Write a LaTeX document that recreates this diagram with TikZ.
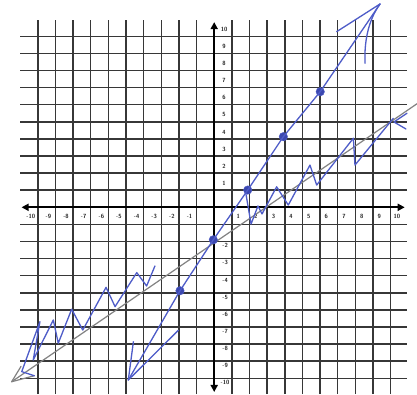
\documentclass[tikz,border=0pt]{standalone}
\usetikzlibrary{arrows.meta}
\definecolor{ink}{RGB}{78,92,200}
\definecolor{inkdot}{RGB}{60,72,175}
\definecolor{gridc}{RGB}{55,55,55}
\definecolor{pencil}{RGB}{130,130,130}
\begin{document}
\begin{tikzpicture}[
  gridline/.style={draw=gridc, line width=1.5pt},
  axisline/.style={draw=black, line width=2.1pt, -{Triangle[length=7pt,width=7pt]}},
  lbl/.style={font=\sffamily\bfseries\fontsize{6}{7}\selectfont, text=black!85, inner sep=0pt},
  pen/.style={draw=ink, line width=1.3pt, line cap=round, line join=round},
  graypen/.style={draw=pencil, line width=1.2pt, line cap=round, line join=round},
  bluedot/.style={circle, fill=inkdot, draw=ink, inner sep=0pt, minimum size=8.5pt},
]
\useasboundingbox (0,0) rectangle (417pt,394pt);
\fill[white] (0,0) rectangle (417pt,394pt);
\begin{scope}[shift={(214.2pt,186.7pt)}, x=17.64pt, y=17.1pt]
  % grid
  \foreach \k in {-10,...,-1,1,2,...,10} {
    \draw[gridline] (\k,-10.92) -- (\k,10.95);
    \draw[gridline] (-11,\k) -- (10.95,\k);
  }
  % axes
  \coordinate (O) at (0,0);
  \coordinate (xr) at (10.8,0);
  \coordinate (xl) at (-10.92,0);
  \coordinate (yt) at (0,10.83);
  \coordinate (yb) at (0,-10.8);
  \draw[axisline] (O) -- (xr);
  \draw[axisline] (O) -- (xl);
  \draw[axisline] (O) -- (yt);
  \draw[axisline] (O) -- (yb);
  % labels
  \foreach \k in {1,...,10} {
    \node[lbl] (xp\k) at ({\k+0.36},-0.55) {\k};
    \node[lbl] (xn\k) at ({-\k-0.4},-0.55) {-\k};
    \node[lbl] (yp\k) at (0.56,{\k+0.4}) {\k};
  }
  \foreach \k in {2,...,10} {
    \node[lbl] (yn\k) at (0.62,{-\k-0.25}) {-\k};
  }
  % gray pencil line
  \coordinate (g1) at (-11.48,-10.2);
  \coordinate (g2) at (11.7,6.2);
  \draw[graypen] (g1) -- (g2);
  \draw[graypen] (-10.95,-9.3) -- (g1) -- (-10.2,-9.85);
  % blue zigzag along the gray line (lower left)
  \draw[pen] (-3.36,-3.43) -- (-3.83,-4.60) -- (-4.39,-3.82) -- (-5.62,-5.81)
    -- (-6.13,-4.68) -- (-7.45,-7.18) -- (-8.08,-5.96) -- (-8.84,-7.95)
    -- (-9.12,-6.59) -- (-10.26,-8.93) -- (-9.88,-6.69) -- (-10.91,-9.61)
    -- (-10.2,-9.85);
  % blue zigzag along the gray line (upper right)
  \draw[pen] (1.80,0.78) -- (2.09,-0.98) -- (2.48,0.08) -- (2.71,-0.39)
    -- (3.54,1.20) -- (4.20,0.13) -- (5.43,2.47) -- (5.81,1.30)
    -- (7.89,4.04) -- (7.98,2.47) -- (10.15,5.20);
  \draw[pen] (10.93,5.50) -- (10.19,4.99) -- (10.87,4.58);
  % steep blue line
  \node[bluedot] (d1) at (-1.94,-4.88) {};
  \node[bluedot] (d2) at (-0.05,-1.9) {};
  \node[bluedot] (d3) at (1.9,1.01) {};
  \node[bluedot] (d4) at (3.92,4.13) {};
  \node[bluedot] (d5) at (6.01,6.76) {};
  \coordinate (tb) at (-4.87,-10.1);
  \coordinate (tt) at (9.4,11.89);
  \draw[pen] (tb) -- (d1.center) -- (d2.center) -- (d3.center) -- (d4.center) -- (d5.center) -- (tt);
  \draw[pen] (-4.58,-7.86) -- (tb) -- (-2.03,-7.19);
  \draw[pen] (6.94,10.27) .. controls (7.9,10.9) .. (tt);
  \draw[pen] (tt) .. controls (8.7,10.9) and (8.5,9.6) .. (8.55,8.42);
\end{scope}
\end{tikzpicture}
\end{document}
